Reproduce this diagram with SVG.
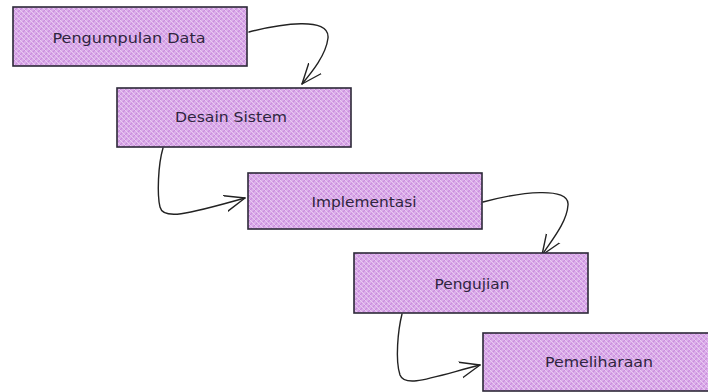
<svg xmlns="http://www.w3.org/2000/svg" width="708" height="392" viewBox="0 0 708 392">
<defs>
<pattern id="hatch" patternUnits="userSpaceOnUse" width="5" height="5">
<rect width="5" height="5" fill="#dcaeea"/>
<path d="M-1,6 L6,-1 M-1,1 L1,-1 M4,6 L6,4" stroke="#c98cdd" stroke-width="1.2"/>
<path d="M-1,-1 L6,6" stroke="#eed6f4" stroke-width="0.8"/>
</pattern>
<marker id="arr" markerUnits="userSpaceOnUse" markerWidth="24" markerHeight="24" viewBox="-20 -12 24 24" refX="0" refY="0" orient="auto">
<path d="M-20,-8 L0,0 L-20,8" fill="none" stroke="#222" stroke-width="1.4" stroke-linecap="round" stroke-linejoin="round"/>
</marker>
</defs>
<style>
.box{fill:url(#hatch);stroke:#2c2838;stroke-width:1.6}
.lbl{font-family:"DejaVu Sans","Liberation Sans",sans-serif;font-size:14px;fill:#2f2540;text-anchor:middle;dominant-baseline:central}
.conn{fill:none;stroke:#222;stroke-width:1.4;stroke-linecap:round}
</style>
<rect width="708" height="392" fill="#ffffff"/>
<g id="connectors">
<path class="conn" d="M249,32 C280,24 330,16 328,38 C326,55 312,72 302,84" marker-end="url(#arr)"/>
<path class="conn" d="M163,148 C158,165 157,195 160,207 C163,220 185,215 245,198" marker-end="url(#arr)"/>
<path class="conn" d="M483,202 C520,192 570,186 568,205 C567,222 552,240 542,255" marker-end="url(#arr)"/>
<path class="conn" d="M402,314 C398,330 395,360 400,375 C405,388 430,378 480,365" marker-end="url(#arr)"/>
</g>
<g id="n1"><rect class="box" x="13" y="7" width="234" height="59"/><text class="lbl" x="129" y="38" textLength="153" lengthAdjust="spacingAndGlyphs">Pengumpulan Data</text></g>
<g id="n2"><rect class="box" x="117" y="88" width="234" height="59"/><text class="lbl" x="231" y="117" textLength="112" lengthAdjust="spacingAndGlyphs">Desain Sistem</text></g>
<g id="n3"><rect class="box" x="248" y="173" width="234" height="56"/><text class="lbl" x="364" y="202" textLength="105" lengthAdjust="spacingAndGlyphs">Implementasi</text></g>
<g id="n4"><rect class="box" x="354" y="253" width="234" height="60"/><text class="lbl" x="472" y="284" textLength="75" lengthAdjust="spacingAndGlyphs">Pengujian</text></g>
<g id="n5"><rect class="box" x="483" y="333" width="234" height="58"/><text class="lbl" x="599" y="362" textLength="108" lengthAdjust="spacingAndGlyphs">Pemeliharaan</text></g>
</svg>
